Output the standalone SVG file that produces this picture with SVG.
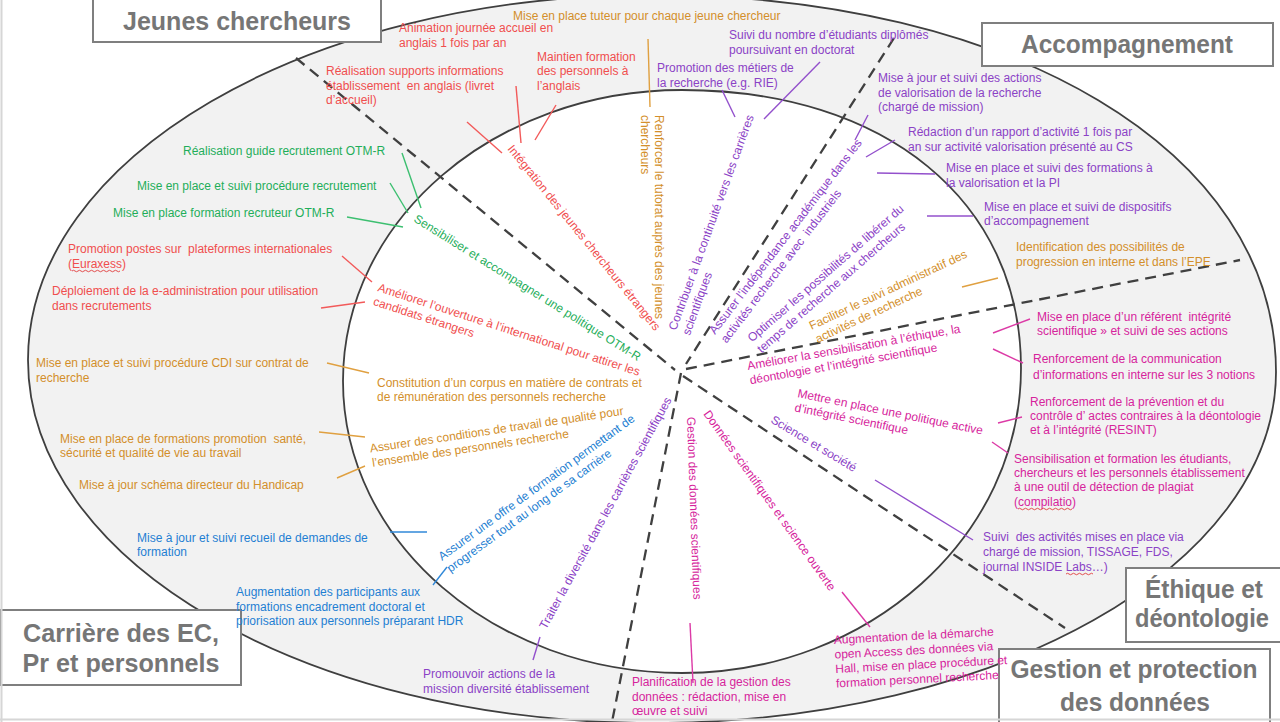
<svg xmlns="http://www.w3.org/2000/svg" width="1280" height="722" viewBox="0 0 1280 722">
<style>
.t{font-family:"Liberation Sans",Arial,sans-serif;font-size:12px;white-space:pre}
.r{fill:#f04e4e}.o{fill:#d38f2b}.g{fill:#1fae5a}.p{fill:#8b42c6}.m{fill:#d6249c}.b{fill:#1f7fd2}
.cr{stroke:#f25a5a}.co{stroke:#e0a040}.cg{stroke:#3cbf70}.cp{stroke:#9350cc}.cm{stroke:#dc3aa6}.cb{stroke:#3088d8}
#connectors line{stroke-width:1.4;fill:none}
.dash{stroke:#404040;stroke-width:2.3;stroke-dasharray:11 7;fill:none}
.box{fill:#fff;stroke:#7f7f7f;stroke-width:2}
.lbl{font-family:"Liberation Sans",Arial,sans-serif;font-weight:bold;font-size:26px;fill:#767676}
.wavy{fill:none;stroke:#e03c3c;stroke-width:0.9}
</style>
<rect width="1280" height="722" fill="#fff"/>
<g id="ellipses">
<path d="M28,360 C28,158 307,-5 652,-5 C1010,-5 1276,150 1276,372 C1276,566 997,723 652,723 C307,723 28,562 28,360 Z" fill="#f2f2f2" stroke="#3f3f3f" stroke-width="1.8"/>
<path d="M343,381 C343,220 495,90 682,90 C885,90 1021,201 1021,368 C1021,536 869,673 682,673 C495,673 343,542 343,381 Z" fill="#fff" stroke="#3f3f3f" stroke-width="1.8"/>
</g>
<g id="sectors">
<line class="dash" x1="296" y1="58" x2="675" y2="370"/>
<line class="dash" x1="894" y1="38" x2="686" y2="364"/>
<line class="dash" x1="686" y1="369" x2="1240" y2="260"/>
<line class="dash" x1="683" y1="376" x2="1065" y2="628"/>
<line class="dash" x1="681" y1="373" x2="612" y2="722"/>
</g>
<g id="box-jeunes"><rect class="box" x="93" y="-3" width="288" height="45"/><text class="lbl" x="237" y="30" text-anchor="middle" textLength="228" lengthAdjust="spacingAndGlyphs">Jeunes chercheurs</text></g>
<g id="box-accompagnement"><rect class="box" x="982" y="23" width="291" height="43"/><text class="lbl" x="1127" y="53" text-anchor="middle" textLength="212" lengthAdjust="spacingAndGlyphs">Accompagnement</text></g>
<g id="box-carriere"><rect class="box" x="1" y="610" width="240" height="75"/><text class="lbl" x="121" y="642" text-anchor="middle" textLength="196" lengthAdjust="spacingAndGlyphs">Carrière des EC,</text><text class="lbl" x="121" y="672" text-anchor="middle" textLength="197" lengthAdjust="spacingAndGlyphs">Pr et personnels</text></g>
<g id="box-ethique"><rect class="box" x="1126" y="568" width="160" height="74"/><text class="lbl" x="1204" y="598" text-anchor="middle" textLength="118" lengthAdjust="spacingAndGlyphs">Éthique et</text><text class="lbl" x="1202" y="627" text-anchor="middle" textLength="134" lengthAdjust="spacingAndGlyphs">déontologie</text></g>
<g id="box-gestion"><rect class="box" x="999" y="649" width="271" height="80"/><text class="lbl" x="1134" y="678" text-anchor="middle" textLength="247" lengthAdjust="spacingAndGlyphs">Gestion et protection</text><text class="lbl" x="1135" y="711" text-anchor="middle" textLength="150" lengthAdjust="spacingAndGlyphs">des données</text></g>
<g id="connectors">
<line class="cr" x1="467" y1="122" x2="502" y2="153"/>
<line class="cr" x1="516" y1="86" x2="521" y2="143"/>
<line class="cr" x1="556" y1="105" x2="535" y2="140"/>
<line class="cr" x1="342" y1="256" x2="372" y2="282"/>
<line class="cr" x1="321" y1="308" x2="365" y2="302"/>
<line class="co" x1="648" y1="39" x2="650" y2="107"/>
<line class="co" x1="962" y1="287" x2="998" y2="278"/>
<line class="co" x1="327" y1="363" x2="369" y2="373"/>
<line class="co" x1="319" y1="432" x2="365" y2="437"/>
<line class="co" x1="337" y1="478" x2="365" y2="466"/>
<line class="cg" x1="402" y1="153" x2="421" y2="208"/>
<line class="cg" x1="390" y1="183" x2="408" y2="213"/>
<line class="cg" x1="347" y1="217" x2="403" y2="227"/>
<line class="cp" x1="722" y1="90" x2="735" y2="117"/>
<line class="cp" x1="820" y1="62" x2="764" y2="119"/>
<line class="cp" x1="868" y1="115" x2="855" y2="140"/>
<line class="cp" x1="895" y1="140" x2="866" y2="157"/>
<line class="cp" x1="877" y1="173" x2="935" y2="174"/>
<line class="cp" x1="927" y1="216" x2="973" y2="216"/>
<line class="cp" x1="875" y1="480" x2="973" y2="540"/>
<line class="cp" x1="540" y1="637" x2="533" y2="660"/>
<line class="cm" x1="993" y1="333" x2="1030" y2="319"/>
<line class="cm" x1="993" y1="349" x2="1023" y2="363"/>
<line class="cm" x1="998" y1="423" x2="1022" y2="417"/>
<line class="cm" x1="992" y1="442" x2="1008" y2="453"/>
<line class="cm" x1="842" y1="592" x2="870" y2="627"/>
<line class="cm" x1="690" y1="623" x2="693" y2="683"/>
<line class="cb" x1="390" y1="532" x2="427" y2="532"/>
<line class="cb" x1="447" y1="567" x2="433" y2="585"/>
</g>
<g id="n-animation"><text class="t r"><tspan x="399" y="32">Animation journée accueil en</tspan><tspan x="399" y="47">anglais 1 fois par an</tspan></text></g>
<g id="n-supports"><text class="t r"><tspan x="326" y="75">Réalisation supports informations</tspan><tspan x="326" y="90">établissement  en anglais (livret</tspan><tspan x="326" y="104">d’accueil)</tspan></text></g>
<g id="n-maintien"><text class="t r"><tspan x="537" y="61">Maintien formation</tspan><tspan x="537" y="75">des personnels à</tspan><tspan x="537" y="90">l’anglais</tspan></text></g>
<g id="n-tuteur"><text class="t o" x="513" y="20">Mise en place tuteur pour chaque jeune chercheur</text></g>
<g id="n-suivi-nombre"><text class="t p"><tspan x="729" y="39">Suivi du nombre d’étudiants diplômés</tspan><tspan x="729" y="54">poursuivant en doctorat</tspan></text></g>
<g id="n-promotion-metiers"><text class="t p"><tspan x="657" y="72">Promotion des métiers de</tspan><tspan x="657" y="87">la recherche (e.g. RIE)</tspan></text></g>
<g id="n-valorisation"><text class="t p"><tspan x="878" y="82">Mise à jour et suivi des actions</tspan><tspan x="878" y="97">de valorisation de la recherche</tspan><tspan x="878" y="111">(chargé de mission)</tspan></text></g>
<g id="n-rapport"><text class="t p"><tspan x="908" y="136">Rédaction d’un rapport d’activité 1 fois par</tspan><tspan x="908" y="151">an sur activité valorisation présenté au CS</tspan></text></g>
<g id="n-formations-pi"><text class="t p"><tspan x="946" y="172">Mise en place et suivi des formations à</tspan><tspan x="946" y="187">la valorisation et la PI</tspan></text></g>
<g id="n-dispositifs"><text class="t p"><tspan x="984" y="211">Mise en place et suivi de dispositifs</tspan><tspan x="984" y="225">d’accompagnement</tspan></text></g>
<g id="n-progression"><text class="t o"><tspan x="1016" y="251">Identification des possibilités de</tspan><tspan x="1016" y="266">progression en interne et dans l’EPE</tspan></text></g>
<g id="n-referent"><text class="t m"><tspan x="1037" y="321">Mise en place d’un référent  intégrité</tspan><tspan x="1037" y="335">scientifique » et suivi de ses actions</tspan></text></g>
<g id="n-communication"><text class="t m"><tspan x="1033" y="363">Renforcement de la communication</tspan><tspan x="1033" y="379">d’informations en interne sur les 3 notions</tspan></text></g>
<g id="n-prevention"><text class="t m"><tspan x="1030" y="406">Renforcement de la prévention et du</tspan><tspan x="1030" y="420">contrôle d’ actes contraires à la déontologie</tspan><tspan x="1030" y="434">et à l’intégrité (RESINT)</tspan></text></g>
<g id="n-plagiat"><text class="t m"><tspan x="1014" y="463">Sensibilisation et formation les étudiants,</tspan><tspan x="1014" y="477">chercheurs et les personnels établissement</tspan><tspan x="1014" y="491">à une outil de détection de plagiat</tspan><tspan x="1014" y="506">(compilatio)</tspan></text><path class="wavy" d="M1018,509 q1.5,-1.5 3,0 t3,0 t3,0 t3,0 t3,0 t3,0 t3,0 t3,0 t3,0 t3,0 t3,0 t3,0 t3,0 t3,0 t3,0 t3,0 t3,0 t3,0"/></g>
<g id="n-activites"><text class="t p"><tspan x="983" y="541">Suivi  des activités mises en place via</tspan><tspan x="983" y="556">chargé de mission, TISSAGE, FDS,</tspan><tspan x="983" y="571">journal INSIDE Labs…)</tspan></text><path class="wavy" d="M1066,574 q1.5,-1.5 3,0 t3,0 t3,0 t3,0 t3,0 t3,0 t3,0 t3,0 t3,0"/></g>
<g id="n-open-access"><text class="t m" transform="rotate(-3 834 644)"><tspan x="834" y="644">Augmentation de la démarche</tspan><tspan x="834" y="658.5">open Access des données via</tspan><tspan x="834" y="673">Hall, mise en place procédure et</tspan><tspan x="834" y="687.5">formation personnel recherche</tspan></text></g>
<g id="n-planification"><text class="t m"><tspan x="632" y="686">Planification de la gestion des</tspan><tspan x="632" y="701">données : rédaction, mise en</tspan><tspan x="632" y="715">œuvre et suivi</tspan></text></g>
<g id="n-guide"><text class="t g" x="183" y="155">Réalisation guide recrutement OTM-R</text></g>
<g id="n-procedure"><text class="t g" x="137" y="190">Mise en place et suivi procédure recrutement</text></g>
<g id="n-recruteur"><text class="t g" x="113" y="217">Mise en place formation recruteur OTM-R</text></g>
<g id="n-euraxess"><text class="t r"><tspan x="68" y="253">Promotion postes sur  plateformes internationales</tspan><tspan x="68" y="268">(Euraxess)</tspan></text><path class="wavy" d="M72,271 q1.5,-1.5 3,0 t3,0 t3,0 t3,0 t3,0 t3,0 t3,0 t3,0 t3,0 t3,0 t3,0 t3,0 t3,0 t3,0 t3,0 t3,0"/></g>
<g id="n-e-admin"><text class="t r"><tspan x="52" y="295">Déploiement de la e-administration pour utilisation</tspan><tspan x="52" y="310">dans recrutements</tspan></text></g>
<g id="n-cdi"><text class="t o"><tspan x="36" y="367">Mise en place et suivi procédure CDI sur contrat de</tspan><tspan x="36" y="382">recherche</tspan></text></g>
<g id="n-sante"><text class="t o"><tspan x="60" y="443">Mise en place de formations promotion  santé,</tspan><tspan x="60" y="457">sécurité et qualité de vie au travail</tspan></text></g>
<g id="n-handicap"><text class="t o" x="79" y="489">Mise à jour schéma directeur du Handicap</text></g>
<g id="n-recueil"><text class="t b"><tspan x="137" y="542">Mise à jour et suivi recueil de demandes de</tspan><tspan x="137" y="556">formation</tspan></text></g>
<g id="n-hdr"><text class="t b"><tspan x="236" y="596">Augmentation des participants aux</tspan><tspan x="236" y="611">formations encadrement doctoral et</tspan><tspan x="236" y="625">priorisation aux personnels préparant HDR</tspan></text></g>
<g id="n-diversite"><text class="t p"><tspan x="423" y="678">Promouvoir actions de la</tspan><tspan x="423" y="693">mission diversité établissement</tspan></text></g>
<g id="i-integration"><text class="t r" transform="rotate(51 507 149)" x="507" y="149">Intégration des jeunes chercheurs étrangers</text></g>
<g id="i-tutorat"><text class="t o" transform="rotate(90 655 115)"><tspan x="655" y="115">Renforcer le tutorat auprès des jeunes</tspan><tspan x="655" y="129">chercheurs</tspan></text></g>
<g id="i-otmr"><text class="t g" transform="rotate(32 413 221)" x="413" y="221">Sensibiliser et accompagner une politique OTM-R</text></g>
<g id="i-international"><text class="t r" transform="rotate(18 377 291)"><tspan x="377" y="291">Améliorer l’ouverture à l’international pour attirer les</tspan><tspan x="377" y="305.5">candidats étrangers</tspan></text></g>
<g id="i-corpus"><text class="t o"><tspan x="377" y="387">Constitution d’un corpus en matière de contrats et</tspan><tspan x="377" y="401">de rémunération des personnels recherche</tspan></text></g>
<g id="i-conditions"><text class="t o" transform="rotate(-8.5 370.5 452.5)"><tspan x="370.5" y="452.5">Assurer des conditions de travail de qualité pour</tspan><tspan x="370.5" y="467">l’ensemble des personnels recherche</tspan></text></g>
<g id="i-formation"><text class="t b" transform="rotate(-36 442 561)"><tspan x="442" y="561">Assurer une offre de formation permettant de</tspan><tspan x="442" y="575.5">progresser tout au long de sa carrière</tspan></text></g>
<g id="i-diversite"><text class="t p" transform="rotate(-61.3 546 630)" x="546" y="630">Traiter la diversité dans les carrières scientifiques</text></g>
<g id="i-gestion"><text class="t m" transform="rotate(88 687 417)" x="687" y="417">Gestion des données scientifiques</text></g>
<g id="i-science-ouverte"><text class="t m" transform="rotate(54.5 703 414)" x="703" y="414">Données scientifiques et science ouverte</text></g>
<g id="i-science-societe"><text class="t p" transform="rotate(31 770 422)" x="770" y="422">Science et société</text></g>
<g id="i-integrite"><text class="t m" transform="rotate(11.5 797 397)"><tspan x="797" y="397">Mettre en place une politique active</tspan><tspan x="797" y="411.5">d’intégrité scientifique</tspan></text></g>
<g id="i-ethique"><text class="t m" transform="rotate(-10 748 370)"><tspan x="748" y="370">Améliorer la sensibilisation à l’éthique, la</tspan><tspan x="748" y="384.5">déontologie et l’intégrité scientifique</tspan></text></g>
<g id="i-suivi-admin"><text class="t o" transform="rotate(-25 811.5 330)"><tspan x="811.5" y="330">Faciliter le suivi administratif des</tspan><tspan x="811.5" y="344.5">activités de recherche</tspan></text></g>
<g id="i-temps"><text class="t p" transform="rotate(-41 752 342.6)"><tspan x="752" y="342.6">Optimiser les possibilités de libérer du</tspan><tspan x="752" y="357.1">temps de recherche aux chercheurs</tspan></text></g>
<g id="i-independance"><text class="t p" transform="rotate(-52.5 715 335)"><tspan x="715" y="335">Assurer l’indépendance académique dans les</tspan><tspan x="715" y="349.5">activités recherche avec  industriels</tspan></text></g>
<g id="i-continuite"><text class="t p" transform="rotate(-70 676 331)"><tspan x="676" y="331">Contribuer à la continuité vers les carrières</tspan><tspan x="676" y="345.5">scientifiques</tspan></text></g>
<g id="frame"><line x1="1.5" y1="0" x2="1.5" y2="722" stroke="#d6d6d6" stroke-width="2"/><line x1="0" y1="719.5" x2="1280" y2="719.5" stroke="#d6d6d6" stroke-width="2"/></g>
</svg>
